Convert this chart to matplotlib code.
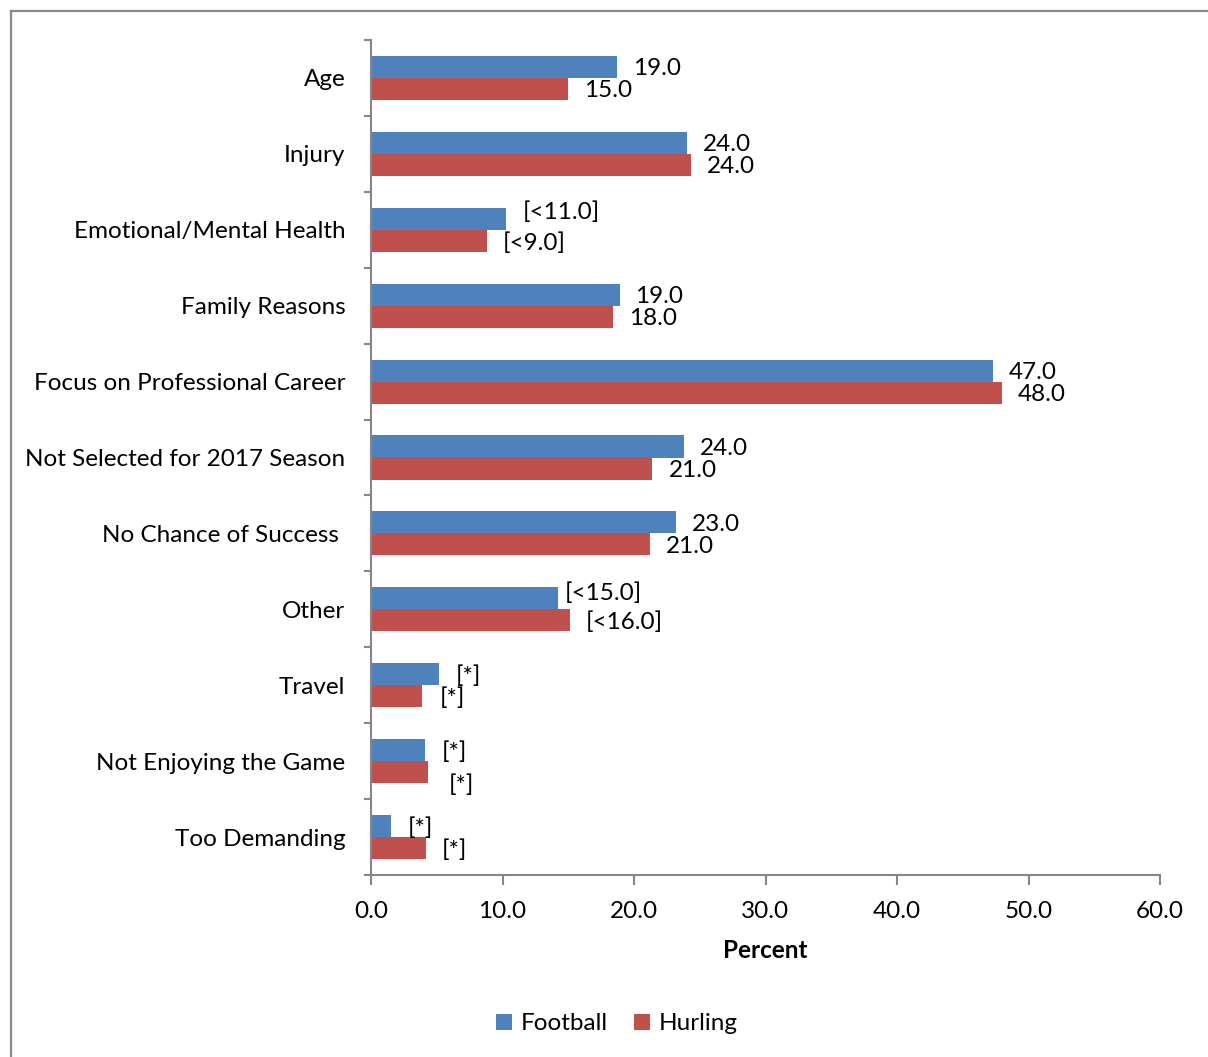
import matplotlib.pyplot as plt
from matplotlib.lines import Line2D
from matplotlib.ticker import FixedLocator
import numpy as np

plt.rcParams['font.family'] = ['Lato', 'DejaVu Sans']

# data
categories = ['Age', 'Injury', 'Emotional/Mental Health', 'Family Reasons',
              'Focus on Professional Career', 'Not Selected for 2017 Season',
              'No Chance of Success ', 'Other', 'Travel',
              'Not Enjoying the Game', 'Too Demanding']
football = [18.7, 24.0, 10.3, 18.9, 47.3, 23.8, 23.2, 14.2, 5.2, 4.1, 1.5]
hurling = [15.0, 24.3, 8.8, 18.4, 48.0, 21.4, 21.2, 15.1, 3.9, 4.3, 4.2]
football_labels = ['19.0', '24.0', '[<11.0]', '19.0', '47.0', '24.0', '23.0',
                   '[<15.0]', '[*]', '[*]', '[*]']
hurling_labels = ['15.0', '24.0', '[<9.0]', '18.0', '48.0', '21.0', '21.0',
                  '[<16.0]', '[*]', '[*]', '[*]']
x_ticks = [0, 10, 20, 30, 40, 50, 60]

# manual label nudges (pixels, dx, dy) as placed in the original chart
football_nudge = [(0, 0), (0, 0), (0, 9), (0, 0), (0, 0), (0, 0), (0, 0),
                  (-9, 7), (0, 0), (1, 0), (1, 0)]
hurling_nudge = [(0, 0), (0, 0), (0, 0), (0, 0), (0, 0), (0, 0), (0, 0),
                 (0, 0), (1, 0), (5, -11), (0, 0)]

BLUE = '#4F81BD'
RED = '#C0504D'
GREY = '#868686'
FS = 17.5
PX = 0.72  # points per pixel at dpi 100

fig = plt.figure(figsize=(12.08, 10.57), dpi=100)
ax = fig.add_axes([371 / 1208, 1 - 875 / 1057, (1160 - 371) / 1208, (875 - 40) / 1057])

y = np.arange(len(categories))
h = 0.29
bf = ax.barh(y - h / 2, football, height=h, color=BLUE, label='Football')
bh = ax.barh(y + h / 2, hurling, height=h, color=RED, label='Hurling')

for bars, labels, nudge in ((bf, football_labels, football_nudge),
                            (bh, hurling_labels, hurling_nudge)):
    for rect, lab, (dx, dy) in zip(bars, labels, nudge):
        ax.annotate(lab, (rect.get_width(), rect.get_y() + rect.get_height() / 2),
                    xytext=((16 + dx) * PX, (dy - 2) * PX), textcoords='offset points',
                    ha='left', va='center', fontsize=FS, color='black')

ax.set_xlim(0, 60)
ax.set_ylim(len(categories) - 0.5, -0.5)
ax.set_xticks(x_ticks)
ax.set_xticklabels([f'{v:.1f}' for v in x_ticks], fontsize=FS)
ax.yaxis.set_major_locator(FixedLocator(np.arange(len(categories) + 1) - 0.5))
ax.yaxis.set_minor_locator(FixedLocator(y))
ax.set_yticklabels([''] * (len(categories) + 1))
ax.set_yticklabels(categories, minor=True, fontsize=FS)
ax.tick_params(axis='y', which='major', length=5, width=1.5, color=GREY, direction='out')
ax.tick_params(axis='y', which='minor', length=0, pad=20 * PX + 4)
ax.tick_params(axis='x', length=7, width=1.5, color=GREY, pad=12)

for side in ('top', 'right'):
    ax.spines[side].set_visible(False)
for side in ('left', 'bottom'):
    ax.spines[side].set_color(GREY)
    ax.spines[side].set_linewidth(1.5)

ax.set_xlabel('Percent', fontsize=FS, fontweight='bold', labelpad=12)

fig.legend(handles=[bf, bh], loc='center', bbox_to_anchor=(617 / 1208, 1 - 1024 / 1057),
           ncol=2, frameon=False, fontsize=FS, handlelength=0.65, handleheight=0.65,
           handletextpad=0.35, columnspacing=1.1)

# chart border (only top and left edges remain in the crop)
fig.add_artist(Line2D([10.5 / 1208, 10.5 / 1208], [0, 1 - 10.5 / 1057],
                      transform=fig.transFigure, color='#888888', lw=1.6))
fig.add_artist(Line2D([10.5 / 1208, 1], [1 - 10.5 / 1057, 1 - 10.5 / 1057],
                      transform=fig.transFigure, color='#888888', lw=1.6))

fig.savefig('out.png', dpi=100)
